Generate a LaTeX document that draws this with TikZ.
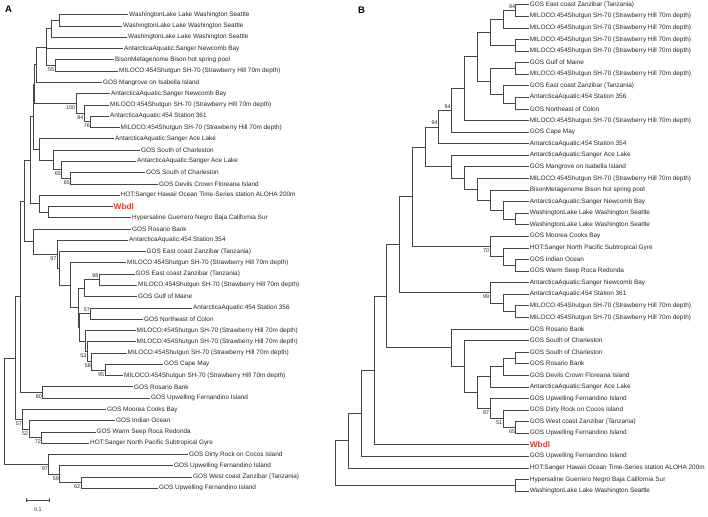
\documentclass[tikz,border=0pt]{standalone}
\usepackage{fontspec}
\setmainfont{Liberation Sans}
\usetikzlibrary{calc}
\definecolor{wbdlred}{RGB}{232,62,58}
\definecolor{treegray}{RGB}{70,70,70}

\newcommand\milo{MILOCO:454Shutgun SH-70 (Strawberry Hill 70m depth)}
\newcommand\wash{WashingtonLake Lake Washington Seattle}
\newcommand\upw{GOS Upwelling Fernandino Island}
\newcommand\wbdl{{\fontsize{8.3}{9}\selectfont\bfseries\color{wbdlred}Wbdl}}

% clade: name, x, upper child, lower child
\newcommand\clade[4]{%
  \path ($(#3)!.5!(#4)$) coordinate (#1m);
  \coordinate (#1) at (#2,0 |- #1m);
  \draw[branch] (#1) |- (#3) (#1) |- (#4);
}
\newcommand\cladethree[5]{%
  \path ($(#3)!.5!(#5)$) coordinate (#1m);
  \coordinate (#1) at (#2,0 |- #1m);
  \draw[branch] (#1) |- (#3) (#1) |- (#4) (#1) |- (#5);
}
% cladogram level for tree B
\newcommand\bclade[4]{\pgfmathsetmacro\bxx{528.7-12.9*#2}\clade{#1}{\bxx}{#3}{#4}}

\tikzset{
  branch/.style={draw=treegray, line width=0.65pt},
  leaf/.style={anchor=west, inner sep=1pt, font=\fontsize{6.4}{7}\selectfont, text=black!85},
  boot/.style={inner sep=0.6pt, font=\fontsize{5.4}{6}\selectfont, text=black!85},
  bootlo/.style={boot, anchor=north east, yshift=-1.6pt},
  boothi/.style={boot, anchor=south east, yshift=1.2pt},
  panel/.style={font=\fontsize{9.5}{11}\selectfont\bfseries},
}

\begin{document}
\begin{tikzpicture}[x=1pt,y=-1pt]
\useasboundingbox (0,0) rectangle (708,516);
\node[panel] (pa) at (8.5,9.5) {A};
\node[panel] (pb) at (361.5,10) {B};

% ---- tree A (phylogram)
\foreach \tx/\lab [count=\i] in {128/\wash, 122/\wash, 127/\wash,
  123/AntarcticaAquatic:Sanger Newcomb Bay, 114/BisonMetagenome Bison hot spring pool,
  118/\milo, 102/GOS Mangrove on Isabella Island, 110/AntarcticaAquatic:Sanger Newcomb Bay,
  109/\milo, 109/AntarcticaAquatic:454 Station 361, 119.5/\milo,
  114/AntarcticaAquatic:Sanger Ace Lake, 140/GOS South of Charleston,
  136/AntarcticaAquatic:Sanger Ace Lake, 145/GOS South of Charleston,
  158/GOS Devils Crown Floreana Island, 119.5/HOT:Sanger Hawaii Ocean Time-Series station ALOHA 200m,
  112.5/\wbdl, 131/Hypersaline Guerrero Negro Baja California Sur, 131/GOS Rosario Bank,
  128/AntarcticaAquatic:454 Station 354, 145.5/GOS East coast Zanzibar (Tanzania), 126/\milo,
  134.5/GOS East coast Zanzibar (Tanzania), 137/\milo, 137/GOS Gulf of Maine,
  192/AntarcticaAquatic:454 Station 356, 143/GOS Northeast of Colon, 135.5/\milo,
  135.5/\milo, 126.5/\milo, 163/GOS Cape May, 123/\milo, 133/GOS Rosario Bank,
  150/\upw, 106/GOS Moorea Cooks Bay, 115/GOS Indian Ocean, 95.5/GOS Warm Seep Roca Redonda,
  89/HOT:Sanger North Pacific Subtropical Gyre, 188/GOS Dirty Rock on Cocos Island,
  173/\upw, 192/GOS West coast Zanzibar (Tanzania), 158/\upw}
  \node[leaf] (ta\i) at (\tx,{14.7+11.276*(\i-1)}) {\lab};

\clade{n12}{59.3}{ta1}{ta2}
\clade{n123}{51.7}{n12}{ta3}
\clade{n55}{55}{ta5}{ta6}
\cladethree{n16}{46.7}{n123}{ta4}{n55}
\clade{n17}{36}{n16}{ta7}
\clade{n76}{90.7}{ta10}{ta11}
\clade{n84}{84.3}{ta9}{n76}
\clade{n100}{76}{ta8}{n84}
\clade{n111}{34.3}{n17}{n100}
\clade{n65b}{70.7}{ta15}{ta16}
\clade{n65a}{61.7}{ta14}{n65b}
\clade{n1316}{53.3}{ta13}{n65a}
\clade{n1216}{39.3}{ta12}{n1316}
\clade{n116}{33.3}{n111}{n1216}
\clade{nwb}{48.3}{ta18}{ta19}
\clade{nhot}{39.3}{ta17}{nwb}
\clade{n119}{30}{n116}{nhot}
\clade{n95}{105}{ta32}{ta33}
\clade{n58}{91.7}{ta31}{n95}
\clade{n53}{87.3}{ta30}{n58}
\clade{n2933}{85}{ta29}{n53}
\clade{n57}{90.7}{ta27}{ta28}
\clade{n98}{99.3}{ta24}{ta25}
\clade{n2426}{84}{n98}{ta26}
\clade{nx}{79.3}{n57}{n2933}
\clade{nm}{78.3}{n2426}{nx}
\clade{n70}{70}{ta23}{nm}
\clade{n60}{59.5}{ta22}{n70}
\clade{n97}{57.3}{ta21}{n60}
\clade{nq}{33.3}{ta20}{n97}
\clade{ns}{24}{n119}{nq}
\clade{n80}{42.7}{ta34}{ta35}
\clade{nr}{20.7}{ns}{n80}
\clade{n72}{41.7}{ta38}{ta39}
\clade{n52}{29}{ta37}{n72}
\clade{n57b}{22.7}{ta36}{n52}
\clade{nu}{15}{nr}{n57b}
\clade{n62}{81}{ta42}{ta43}
\clade{n59}{59.7}{ta41}{n62}
\clade{n97b}{48.7}{ta40}{n59}
\clade{nroot}{4}{nu}{n97b}

\foreach \n/\v in {n55/55, n100/100, n84/84, n76/76, n65a/65, n65b/65, n97/97, n53/53,
  n58/58, n95/95, n80/80, n57b/57, n52/52, n72/72, n97b/97, n59/59, n62/62}
  \node[bootlo] (bs-\n) at (\n) {\v};
\foreach \n/\v in {n98/98, n57/57}
  \node[boothi] (bs-\n) at (\n) {\v};

% scale bar
\coordinate (sbl) at (26.7,500);
\coordinate (sbr) at (49,500);
\draw[branch] (sbl) -- (sbr);
\draw[branch] ([yshift=2pt]sbl) -- ([yshift=-2pt]sbl);
\draw[branch] ([yshift=2pt]sbr) -- ([yshift=-2pt]sbr);
\node[boot] (sblab) at (37.8,509.5) {0.1};

% ---- tree B (cladogram)
\foreach \lab [count=\i] in {GOS East coast Zanzibar (Tanzania), \milo, \milo, \milo, \milo,
  GOS Gulf of Maine, \milo, GOS East coast Zanzibar (Tanzania), AntarcticaAquatic:454 Station 356,
  GOS Northeast of Colon, \milo, GOS Cape May, AntarcticaAquatic:454 Station 354,
  AntarcticaAquatic:Sanger Ace Lake, GOS Mangrove on Isabella Island, \milo,
  BisonMetagenome Bison hot spring pool, AntarcticaAquatic:Sanger Newcomb Bay, \wash, \wash,
  GOS Moorea Cooks Bay, HOT:Sanger North Pacific Subtropical Gyre, GOS Indian Ocean,
  GOS Warm Seep Roca Redonda, AntarcticaAquatic:Sanger Newcomb Bay, AntarcticaAquatic:454 Station 361,
  \milo, \milo, GOS Rosario Bank, GOS South of Charleston, GOS South of Charleston,
  GOS Rosario Bank, GOS Devils Crown Floreana Island, AntarcticaAquatic:Sanger Ace Lake,
  \upw, GOS Dirty Rock on Cocos Island, GOS West coast Zanzibar (Tanzania), \upw, \wbdl, \upw,
  HOT:Sanger Hawaii Ocean Time-Series station ALOHA 200m,
  Hypersaline Guerrero Negro Baja California Sur, \wash}
  \node[leaf] (tb\i) at (528.7,{4.7+11.58*(\i-1)}) {\lab};

\bclade{b1}{1}{tb1}{tb2}
\bclade{b2}{2}{b1}{tb3}
\bclade{b3}{1}{tb4}{tb5}
\bclade{b4}{3}{b2}{b3}
\bclade{b5}{1}{tb6}{tb7}
\bclade{b6}{1}{tb9}{tb10}
\bclade{b7}{2}{tb8}{b6}
\bclade{b8}{3}{b5}{b7}
\bclade{b9}{4}{b4}{b8}
\bclade{b10}{5}{b9}{tb11}
\bclade{b11}{6}{b10}{tb12}
\bclade{b12}{7}{b11}{tb13}
\bclade{b13}{1}{tb19}{tb20}
\bclade{b14}{2}{tb18}{b13}
\bclade{b15}{3}{tb17}{b14}
\bclade{b16}{4}{tb16}{b15}
\bclade{b17}{5}{tb15}{b16}
\bclade{b18}{6}{tb14}{b17}
\bclade{b19}{8}{b12}{b18}
\bclade{b20}{1}{tb23}{tb24}
\bclade{b21}{2}{tb22}{b20}
\bclade{b22}{3}{tb21}{b21}
\bclade{b23}{9}{b19}{b22}
\bclade{b24}{1}{tb27}{tb28}
\bclade{b25}{2}{tb26}{b24}
\bclade{b26}{3}{tb25}{b25}
\bclade{b27}{10}{b23}{b26}
\bclade{b28}{1}{tb31}{tb32}
\bclade{b29}{2}{b28}{tb33}
\bclade{b30}{3}{b29}{tb34}
\bclade{b31}{1}{tb37}{tb38}
\bclade{b32}{2}{tb36}{b31}
\bclade{b33}{3}{tb35}{b32}
\bclade{b34}{4}{b30}{b33}
\bclade{b35}{5}{tb30}{b34}
\bclade{b36}{6}{tb29}{b35}
\bclade{b37}{11}{b27}{b36}
\bclade{b38}{12}{b37}{tb39}
\bclade{b39}{13}{b38}{tb40}
\bclade{b40}{14}{b39}{tb41}
\bclade{b41}{1}{tb42}{tb43}
\bclade{b42}{15}{b40}{b41}

\foreach \n/\v in {b1/94, b11/94, b12/94}
  \node[boothi] (bs-\n) at (\n) {\v};
\foreach \n/\v in {b22/70, b26/99, b33/87, b32/51, b31/65}
  \node[bootlo] (bs-\n) at (\n) {\v};
\end{tikzpicture}
\end{document}
